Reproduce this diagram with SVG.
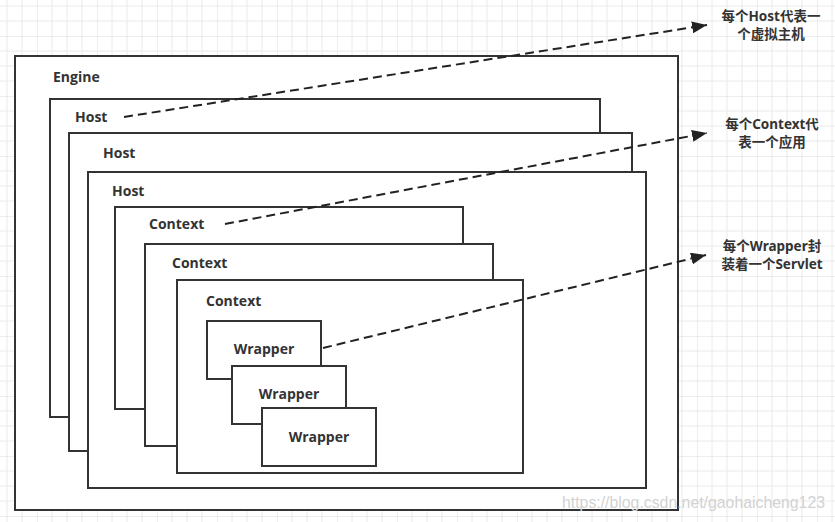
<svg xmlns="http://www.w3.org/2000/svg" width="835" height="522" viewBox="0 0 835 522">
<style>
.box{fill:#fff;stroke:#333;stroke-width:2}
.lbl{font-family:"Open Sans","Noto Sans CJK SC",sans-serif;font-weight:700;font-size:14px;fill:#333}
.note{font-family:"Noto Sans","Noto Sans CJK SC",sans-serif;font-weight:700;font-size:13.5px;fill:#333;text-anchor:middle}
.conn{fill:none;stroke:#222;stroke-width:2;stroke-dasharray:9 5}
.wm{font-family:"Liberation Sans",Arial,sans-serif;font-size:17px;fill:#d2d2d2}
</style>
<defs>
<pattern id="grid" x="37" y="36" width="60" height="60" patternUnits="userSpaceOnUse">
<path d="M15 0V60M30 0V60M45 0V60M0 15H60M0 30H60M0 45H60" stroke="#eaeaea" stroke-width="1" fill="none"/>
<path d="M0 0V60M0 0H60" stroke="#dddddd" stroke-width="1" fill="none"/>
</pattern>
<marker id="arr" markerUnits="userSpaceOnUse" markerWidth="16" markerHeight="12" refX="15" refY="6" orient="auto">
<path d="M0 0L15 6L0 12Z" fill="#222"/>
</marker>
</defs>
<rect width="835" height="522" fill="#fff"/>
<rect width="835" height="522" fill="url(#grid)"/>
<g id="engine"><rect class="box" x="15" y="56" width="663" height="454"/><text class="lbl" x="53" y="82">Engine</text></g>
<g id="host1"><rect class="box" x="50" y="99" width="550" height="318"/><text class="lbl" x="75" y="122">Host</text></g>
<g id="host2"><rect class="box" x="69" y="133" width="563" height="318"/><text class="lbl" x="103" y="158">Host</text></g>
<g id="host3"><rect class="box" x="88" y="172" width="558" height="316"/><text class="lbl" x="112" y="196">Host</text></g>
<g id="context1"><rect class="box" x="115" y="207" width="348" height="202"/><text class="lbl" x="149" y="229">Context</text></g>
<g id="context2"><rect class="box" x="145" y="244" width="348" height="202"/><text class="lbl" x="172" y="268">Context</text></g>
<g id="context3"><rect class="box" x="177" y="280" width="346" height="193"/><text class="lbl" x="206" y="306">Context</text></g>
<g id="wrapper1"><rect class="box" x="207" y="321" width="114" height="58"/><text class="lbl" x="264" y="354" text-anchor="middle">Wrapper</text></g>
<g id="wrapper2"><rect class="box" x="232" y="366" width="114" height="58"/><text class="lbl" x="289" y="399" text-anchor="middle">Wrapper</text></g>
<g id="wrapper3"><rect class="box" x="262" y="408" width="114" height="58"/><text class="lbl" x="319" y="442" text-anchor="middle">Wrapper</text></g>
<g id="connectors">
<path class="conn" d="M124 117L707 25" marker-end="url(#arr)"/>
<path class="conn" d="M225 224L707 133" marker-end="url(#arr)"/>
<path class="conn" d="M323 348L706 255" marker-end="url(#arr)"/>
</g>
<g id="note-host"><text class="note" x="771" y="21">每个Host代表一</text><text class="note" x="771" y="39">个虚拟主机</text></g>
<g id="note-context"><text class="note" x="772" y="129">每个Context代</text><text class="note" x="772" y="147">表一个应用</text></g>
<g id="note-wrapper"><text class="note" x="772" y="251">每个Wrapper封</text><text class="note" x="772" y="269">装着一个Servlet</text></g>
<text class="wm" x="562" y="508" textLength="263" lengthAdjust="spacingAndGlyphs">https://blog.csdn.net/gaohaicheng123</text>
</svg>
